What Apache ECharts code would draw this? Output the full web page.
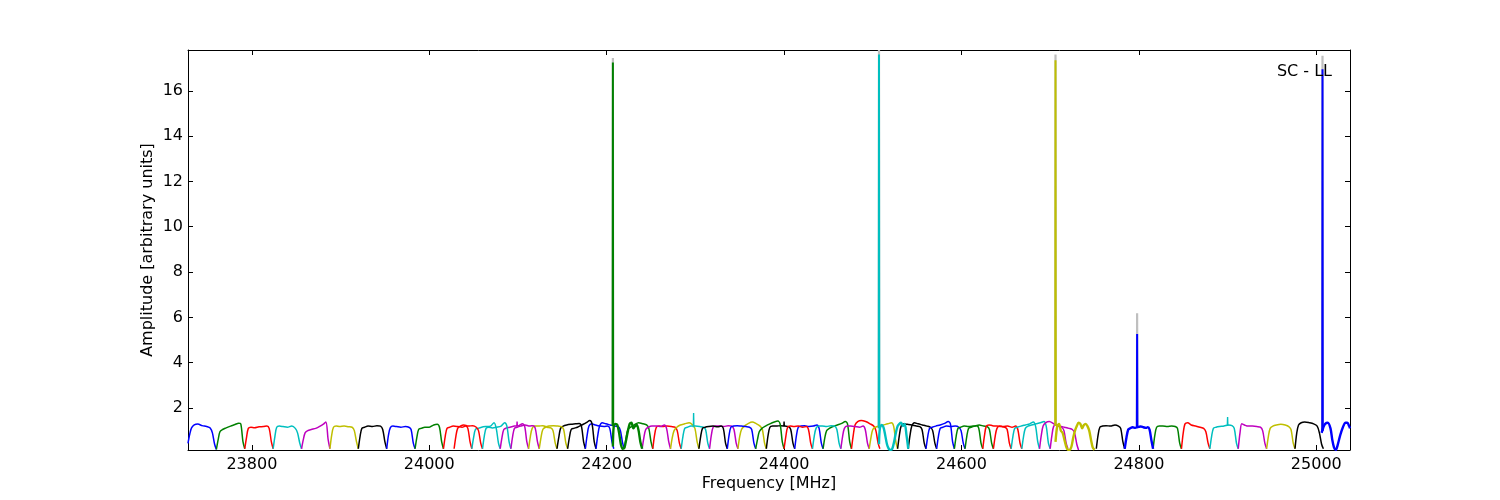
<!DOCTYPE html>
<html>
<head>
<meta charset="utf-8">
<script src="https://cdn.jsdelivr.net/npm/echarts@6/dist/echarts.min.js"></script>
<style>html,body{margin:0;padding:0;background:#fff}#c{width:1500px;height:500px}</style>
</head>
<body>
<div id="c"></div>
<script>
// ---------------- DATA ----------------
const xTicks = [23800, 24000, 24200, 24400, 24600, 24800, 25000];
const yTicks = [2, 4, 6, 8, 10, 12, 14, 16];
const X_MIN = 23728, X_MAX = 25038, Y_MIN = 0.145, Y_MAX = 17.8;

// channel offsets (MHz) inside each 32 MHz band
const bandOffsets = [0, 2, 4, 7, 11, 16, 21, 25, 27.5, 30, 32];

// set A : lower part of the band
const startsA = [23728, 23760, 23792, 23824, 23856, 23888, 23920, 23952, 23984, 24016, 24048, 24080, 24112, 24144, 24176];
const colorsA = ['b','g','r','c','m','y','k','b','g','r','c','m','y','k','b'];
const valsA = [
  [0.44, 0.85, 1.12, 1.25, 1.29, 1.22, 1.18, 1.12, 0.90, 0.40, 0.17],
  [0.17, 0.60, 0.95, 1.05, 1.12, 1.20, 1.27, 1.33, 1.30, 0.50, 0.20],
  [0.20, 0.70, 1.10, 1.15, 1.13, 1.17, 1.18, 1.20, 1.10, 0.50, 0.20],
  [0.20, 0.75, 1.15, 1.20, 1.18, 1.15, 1.20, 1.10, 0.90, 0.45, 0.20],
  [0.20, 0.60, 0.90, 1.00, 1.05, 1.10, 1.20, 1.30, 1.38, 0.60, 0.20],
  [0.20, 0.80, 1.15, 1.20, 1.18, 1.20, 1.17, 1.15, 1.00, 0.50, 0.20],
  [0.20, 0.75, 1.10, 1.15, 1.20, 1.18, 1.22, 1.20, 1.05, 0.50, 0.20],
  [0.20, 0.80, 1.12, 1.20, 1.18, 1.15, 1.18, 1.15, 1.05, 0.45, 0.20],
  [0.20, 0.70, 1.05, 1.10, 1.15, 1.15, 1.25, 1.28, 1.15, 0.50, 0.20],
  [0.20, 0.75, 1.10, 1.15, 1.20, 1.18, 1.15, 1.20, 1.10, 0.50, 0.20],
  [0.20, 0.70, 1.05, 1.10, 1.15, 1.18, 1.20, 1.35, 1.10, 0.45, 0.20],
  [0.20, 0.70, 1.05, 1.12, 1.15, 1.20, 1.22, 1.30, 1.20, 0.50, 0.20],
  [0.20, 0.75, 1.10, 1.20, 1.20, 1.22, 1.15, 1.12, 1.00, 0.45, 0.20],
  [0.20, 0.70, 1.10, 1.20, 1.25, 1.28, 1.30, 1.32, 1.20, 0.50, 0.20],
  [0.20, 0.80, 1.20, 1.30, 1.25, 1.20, 1.18, 1.20, 1.10, 0.50, 0.20]
];

// set B : shifted bands in the middle of the band
const startsB = [24028, 24060, 24092, 24124, 24156, 24188, 24220, 24252, 24284, 24316, 24348, 24380, 24412, 24444, 24476, 24540, 24572, 24604, 24636, 24668, 24700];
const colorsB = ['r','c','m','y','k','b','g','r','c','m','y','k','b','g','r','k','b','g','r','c','m'];
const valsB = [
  [0.20, 0.75, 1.10, 1.20, 1.25, 1.20, 1.22, 1.15, 1.00, 0.45, 0.20],
  [0.20, 0.75, 1.10, 1.15, 1.12, 1.15, 1.20, 1.35, 1.20, 0.50, 0.20],
  [0.20, 0.75, 1.10, 1.15, 1.20, 1.25, 1.20, 1.22, 1.10, 0.50, 0.20],
  [0.20, 0.70, 1.05, 1.15, 1.20, 1.22, 1.20, 1.18, 1.05, 0.45, 0.20],
  [0.20, 0.70, 1.05, 1.10, 1.15, 1.25, 1.35, 1.45, 1.30, 0.50, 0.20],
  [0.20, 0.80, 1.20, 1.35, 1.30, 1.25, 1.20, 1.18, 1.00, 0.45, 0.20],
  [0.20, 0.70, 1.05, 1.15, 1.25, 1.35, 1.30, 1.25, 1.10, 0.50, 0.20],
  [0.20, 0.80, 1.15, 1.20, 1.18, 1.20, 1.18, 1.15, 1.00, 0.45, 0.20],
  [0.20, 0.75, 1.10, 1.15, 1.20, 1.20, 1.18, 1.15, 1.05, 0.45, 0.20],
  [0.20, 0.80, 1.15, 1.20, 1.20, 1.18, 1.22, 1.20, 1.05, 0.45, 0.20],
  [0.20, 0.75, 1.05, 1.20, 1.30, 1.38, 1.30, 1.20, 1.05, 0.45, 0.20],
  [0.20, 0.80, 1.15, 1.20, 1.20, 1.22, 1.20, 1.18, 1.05, 0.45, 0.20],
  [0.20, 0.80, 1.15, 1.20, 1.22, 1.18, 1.20, 1.25, 1.10, 0.45, 0.20],
  [0.20, 0.70, 1.00, 1.10, 1.18, 1.25, 1.32, 1.40, 1.30, 0.50, 0.20],
  [0.20, 0.80, 1.25, 1.40, 1.45, 1.40, 1.30, 1.20, 1.00, 0.45, 0.20],
  [0.20, 0.80, 1.20, 1.35, 1.30, 1.25, 1.20, 1.15, 1.00, 0.45, 0.20],
  [0.20, 0.75, 1.10, 1.15, 1.20, 1.18, 1.20, 1.15, 1.00, 0.45, 0.20],
  [0.20, 0.75, 1.10, 1.15, 1.20, 1.25, 1.20, 1.18, 1.05, 0.45, 0.20],
  [0.20, 0.75, 1.10, 1.20, 1.18, 1.20, 1.15, 1.20, 1.05, 0.45, 0.20],
  [0.20, 0.75, 1.10, 1.20, 1.25, 1.30, 1.35, 1.40, 1.20, 0.45, 0.20],
  [0.20, 0.80, 1.20, 1.25, 1.20, 1.15, 1.10, 1.05, 0.90, 0.40, 0.15]
];

// set C : upper part of the band
const startsC = [24240, 24272, 24304, 24336, 24368, 24400, 24432, 24464, 24496, 24528, 24560, 24592, 24624, 24656, 24688, 24752, 24816, 24848, 24880, 24912, 24944, 24976];
const colorsC = ['m','y','k','b','g','r','c','m','y','k','b','g','r','c','m','k','g','r','c','m','y','k'];
const valsC = [
  [0.20, 0.70, 1.05, 1.15, 1.20, 1.20, 1.18, 1.25, 1.10, 0.50, 0.20],
  [0.20, 0.70, 1.00, 1.15, 1.25, 1.30, 1.35, 1.25, 1.10, 0.50, 0.20],
  [0.20, 0.75, 1.10, 1.15, 1.18, 1.20, 1.17, 1.20, 1.10, 0.45, 0.20],
  [0.20, 0.80, 1.15, 1.20, 1.22, 1.20, 1.18, 1.15, 1.05, 0.45, 0.20],
  [0.20, 0.60, 0.95, 1.10, 1.20, 1.30, 1.38, 1.42, 1.30, 0.50, 0.20],
  [0.20, 0.75, 1.15, 1.20, 1.18, 1.20, 1.15, 1.18, 1.05, 0.45, 0.20],
  [0.20, 0.75, 1.10, 1.20, 1.20, 1.18, 1.22, 1.20, 1.05, 0.45, 0.20],
  [0.20, 0.75, 1.10, 1.20, 1.20, 1.18, 1.15, 1.20, 1.05, 0.45, 0.20],
  [0.20, 0.70, 1.05, 1.15, 1.20, 1.25, 1.30, 1.35, 1.20, 0.50, 0.20],
  [0.20, 0.80, 1.20, 1.30, 1.28, 1.25, 1.20, 1.18, 1.05, 0.45, 0.20],
  [0.20, 0.75, 1.10, 1.15, 1.20, 1.25, 1.32, 1.40, 1.30, 0.50, 0.20],
  [0.20, 0.75, 1.10, 1.15, 1.20, 1.18, 1.20, 1.22, 1.10, 0.45, 0.20],
  [0.20, 0.80, 1.20, 1.25, 1.22, 1.20, 1.18, 1.15, 1.05, 0.45, 0.20],
  [0.20, 0.75, 1.10, 1.15, 1.20, 1.25, 1.30, 1.38, 1.20, 0.50, 0.20],
  [0.20, 0.80, 1.20, 1.35, 1.40, 1.30, 1.20, 1.15, 1.00, 0.45, 0.20],
  [0.20, 0.80, 1.15, 1.20, 1.22, 1.20, 1.25, 1.20, 1.10, 0.50, 0.20],
  [0.20, 0.80, 1.15, 1.20, 1.20, 1.18, 1.20, 1.18, 1.10, 0.45, 0.20],
  [0.20, 0.90, 1.30, 1.35, 1.25, 1.20, 1.15, 1.10, 0.95, 0.45, 0.20],
  [0.20, 0.75, 1.10, 1.15, 1.18, 1.20, 1.25, 1.22, 1.10, 0.45, 0.20],
  [0.20, 0.90, 1.30, 1.25, 1.20, 1.20, 1.18, 1.15, 1.00, 0.45, 0.20],
  [0.20, 0.75, 1.10, 1.20, 1.25, 1.28, 1.25, 1.18, 1.05, 0.45, 0.20],
  [0.20, 0.90, 1.25, 1.35, 1.38, 1.35, 1.30, 1.20, 0.90, 0.40, 0.20]
];

// high-resolution (noisy) bands that hold the strong lines
const greenLineFreq = [24207, 24208, 24210, 24212, 24214, 24216, 24218, 24220, 24222, 24224, 24226, 24228, 24230, 24232, 24234, 24236, 24238, 24240];
const greenLineVals = [0.30, 1.20, 1.30, 1.25, 0.90, 0.40, 0.20, 0.25, 0.60, 1.00, 1.30, 1.35, 1.10, 1.20, 1.25, 1.00, 0.50, 0.20];
const cyanLineFreq = [24507, 24508, 24510, 24512, 24514, 24516, 24518, 24520, 24522, 24524, 24526, 24528, 24530, 24532, 24534, 24536, 24538, 24540];
const cyanLineVals = [0.40, 1.10, 1.25, 1.15, 0.80, 0.40, 0.20, 0.15, 0.20, 0.50, 0.90, 1.20, 1.30, 1.35, 1.20, 1.30, 0.80, 0.20];
const yellowLineFreq = [24706, 24708, 24710, 24712, 24714, 24716, 24718, 24720, 24722, 24724, 24726, 24728, 24730, 24732, 24734, 24736, 24738, 24740, 24742, 24744, 24746, 24748, 24750];
const yellowLineVals = [0.50, 1.20, 1.30, 1.00, 0.90, 0.60, 0.30, 0.15, 0.15, 0.30, 0.70, 1.00, 1.20, 1.35, 1.30, 1.10, 1.25, 1.30, 1.20, 1.00, 0.60, 0.25, 0.15];
const blueLineFreq = [24784, 24786, 24788, 24790, 24793, 24796, 24798, 24802, 24805, 24808, 24810, 24812, 24814, 24816];
const blueLineVals = [0.20, 0.70, 1.05, 1.10, 1.15, 1.12, 1.15, 1.18, 1.15, 1.12, 1.15, 1.05, 0.60, 0.20];
const blueEndFreq = [25006, 25008, 25010, 25013, 25016, 25018, 25020, 25022, 25024, 25027, 25030, 25033, 25035, 25037, 25038];
const blueEndVals = [0.90, 1.15, 1.30, 1.35, 1.10, 0.60, 0.25, 0.15, 0.35, 0.80, 1.15, 1.35, 1.35, 1.20, 1.10];

// spectral lines (spikes)
const spikeFreq   = [24207, 24507, 24706, 24798, 25007, 24298, 24400, 24900, 24099];
const spikeTop    = [17.25, 17.60, 17.35, 5.27, 16.95, 1.78, 1.40, 1.60, 1.40];
const spikeGray   = [17.45, 17.80, 17.60, 6.18, 17.55, null, null, null, null];
const spikeBase   = [1.20, 1.10, 1.20, 1.15, 1.00, 1.15, 1.20, 1.20, 1.20];
const spikeColor  = ['g','c','y','b','b','c','k','c','m'];

// ---------------- CHART ----------------
const COL = {b:'#0000ff', g:'#008000', r:'#ff0000', c:'#00bfbf', m:'#bf00bf', y:'#bfbf00', k:'#000000'};
const series = [];
function line(data, color, width) {
  series.push({type:'line', data, showSymbol:false, symbol:'none', smooth:0.3, silent:true,
    lineStyle:{color, width}, animation:false});
}
spikeFreq.forEach((f,i)=>{
  if (spikeGray[i] != null) {
    series.push({type:'line', data:[[f-0.3, spikeBase[i]],[f, spikeGray[i]],[f+0.3, spikeBase[i]]], showSymbol:false, symbol:'none', silent:true, lineStyle:{color:'#bfbfbf', width:2.2}, animation:false});
  }
});
function addSet(starts, colors, vals) {
  starts.forEach((s,i)=>{
    line(bandOffsets.map((o,j)=>[s+o, vals[i][j]]), COL[colors[i]], 1.5);
  });
}
addSet(startsA, colorsA, valsA);
addSet(startsB, colorsB, valsB);
addSet(startsC, colorsC, valsC);
line(greenLineFreq.map((f,i)=>[f, greenLineVals[i]]), COL.g, 2.4);
line(cyanLineFreq.map((f,i)=>[f, cyanLineVals[i]]), COL.c, 2.4);
line(yellowLineFreq.map((f,i)=>[f, yellowLineVals[i]]), COL.y, 2.4);
line(blueLineFreq.map((f,i)=>[f, blueLineVals[i]]), COL.b, 2.4);
line(blueEndFreq.map((f,i)=>[f, blueEndVals[i]]), COL.b, 2.4);
spikeFreq.forEach((f,i)=>{
  series.push({type:'line', data:[[f-0.3, spikeBase[i]],[f, spikeTop[i]],[f+0.3, spikeBase[i]]], showSymbol:false, symbol:'none', silent:true, lineStyle:{color:COL[spikeColor[i]], width: spikeTop[i] > 3 ? 2 : 1.4}, animation:false});
});

const FONT = 'DejaVu Sans';
const axisCommon = {
  type:'value', scale:true,
  axisLine:{show:true, onZero:false, lineStyle:{color:'#000', width:1}},
  splitLine:{show:false}
};
const plain = v => String(Math.round(v));
const option = {
  animation:false,
  backgroundColor:'#fff',
  grid:{left:188, right:150, top:50, bottom:50, containLabel:false, outerBoundsMode:'none', show:false},
  title:{text:'SC - LL', right:163, top:59, textStyle:{fontFamily:FONT, fontSize:16, fontWeight:'normal', color:'#000'}},
  xAxis:[
    Object.assign({}, axisCommon, {min:X_MIN, max:X_MAX, position:'bottom',
      axisTick:{show:true, inside:true, length:5, customValues:xTicks, lineStyle:{color:'#000'}},
      axisLabel:{show:true, customValues:xTicks, formatter:plain, margin:7, color:'#000', fontFamily:FONT, fontSize:16},
      name:'Frequency [MHz]', nameLocation:'middle', nameGap:26, nameMoveOverlap:false,
      nameTextStyle:{fontFamily:FONT, fontSize:16, color:'#000'}}),
    Object.assign({}, axisCommon, {min:X_MIN, max:X_MAX, position:'top',
      axisTick:{show:true, inside:true, length:5, customValues:xTicks, lineStyle:{color:'#000'}},
      axisLabel:{show:false}})
  ],
  yAxis:[
    Object.assign({}, axisCommon, {min:Y_MIN, max:Y_MAX, position:'left',
      axisTick:{show:true, inside:true, length:5, customValues:yTicks, lineStyle:{color:'#000'}},
      axisLabel:{show:true, customValues:yTicks, formatter:plain, margin:5, color:'#000', fontFamily:FONT, fontSize:16},
      name:'Amplitude [arbitrary units]', nameLocation:'middle', nameGap:32, nameRotate:90, nameMoveOverlap:false,
      nameTextStyle:{fontFamily:FONT, fontSize:16, color:'#000'}}),
    Object.assign({}, axisCommon, {min:Y_MIN, max:Y_MAX, position:'right',
      axisTick:{show:true, inside:true, length:5, customValues:yTicks, lineStyle:{color:'#000'}},
      axisLabel:{show:false}})
  ],
  series: series
};
const chart = echarts.init(document.getElementById('c'), null, {renderer:'canvas'});
chart.setOption(option);
</script>
</body>
</html>
